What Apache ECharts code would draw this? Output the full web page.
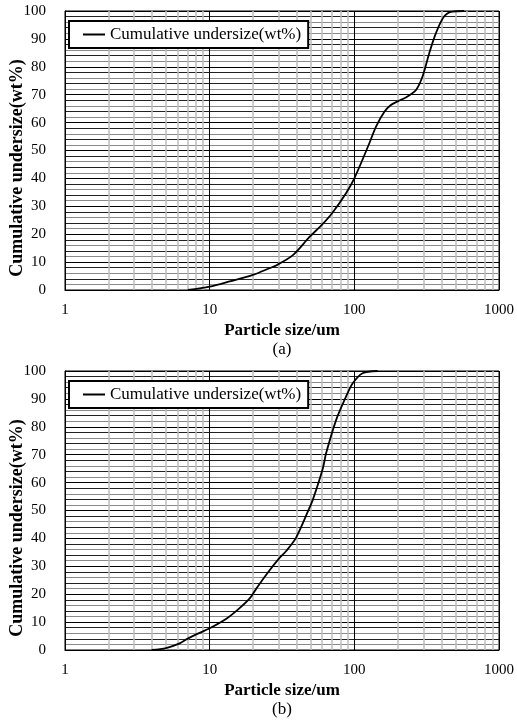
<!DOCTYPE html>
<html>
<head>
<meta charset="utf-8">
<script src="https://cdn.jsdelivr.net/npm/echarts@6/dist/echarts.min.js"></script>
<style>
  html, body { margin: 0; padding: 0; background: #fff; }
  #chart { width: 517px; height: 723px; }
</style>
</head>
<body>
<div id="chart"></div>
<script>
// particle size (um) and cumulative undersize (wt%)
const sizeA = [7.05, 10, 14, 19.9, 25.9, 28.8, 37.6, 49, 60, 70.8, 87.6, 100, 127, 141, 161, 178, 199, 227, 267, 296, 329, 366, 417, 476, 574];
const undersizeA = [0, 1.2, 3.2, 5.4, 7.8, 8.8, 12.5, 19, 23.5, 27.8, 34.7, 40, 52.6, 58.5, 63.8, 66.2, 67.6, 69, 71.7, 76.5, 84.8, 92, 98, 99.8, 100];

const sizeB = [3.96, 5, 6.2, 6.9, 8, 10, 13.2, 16.1, 18.9, 21, 24.6, 30.4, 33.8, 39.6, 49, 51.6, 60.5, 63.8, 74.8, 87.6, 97.5, 114, 145];
const undersizeB = [0, 0.7, 2.4, 3.8, 5.5, 7.8, 11.4, 15, 18.5, 22, 27, 33, 35.5, 40.3, 51, 53.8, 65, 70.5, 82.4, 90.8, 95.6, 99.2, 100];

const xTicks = [1, 10, 100, 1000];
const minorX = [2, 3, 4, 5, 6, 7, 8, 9, 20, 30, 40, 50, 60, 70, 80, 90, 200, 300, 400, 500, 600, 700, 800, 900];
const seriesName = 'Cumulative undersize(wt%)';

const serif = 'Liberation Serif, Times New Roman, serif';
const chart = echarts.init(document.getElementById('chart'));

const plots = [
  { top: 11, sizes: sizeA, vals: undersizeA, tag: '(a)' },
  { top: 371, sizes: sizeB, vals: undersizeB, tag: '(b)' }
];
const plotH = 279;

function xAxisFor(i) {
  return {
    type: 'log', logBase: 10, min: 1, max: 1000, gridIndex: i,
    name: 'Particle size/um', nameLocation: 'middle', nameGap: 32,
    nameTextStyle: { fontFamily: serif, fontSize: 17, fontWeight: 'bold', color: '#000' },
    axisLine: { show: true, lineStyle: { color: '#000', width: 1 } },
    axisTick: { show: false },
    axisLabel: { fontFamily: serif, fontSize: 15, color: '#000', margin: 13,
      formatter: v => xTicks.includes(Math.round(v)) ? String(Math.round(v)) : '' },
    splitLine: { show: true, lineStyle: { color: '#000', width: 1 } }
  };
}

function yAxisFor(i) {
  return {
    type: 'value', min: 0, max: 100, interval: 2, gridIndex: i,
    axisLine: { show: true, lineStyle: { color: '#000', width: 1 } },
    axisTick: { show: false },
    axisLabel: { fontFamily: serif, fontSize: 15, color: '#000', margin: 19,
      formatter: v => (v % 10 === 0 ? String(v) : '') },
    splitLine: { show: true, lineStyle: { color: ['#000', '#8a8a8a', '#222', '#8a8a8a', '#222'], width: 1 } }
  };
}

const option = {
  animation: false,
  grid: plots.map(p => ({ left: 65, right: 17, top: p.top, height: plotH, show: true, borderColor: '#000', borderWidth: 1, backgroundColor: 'transparent' })),
  xAxis: plots.map((p, i) => xAxisFor(i)),
  yAxis: plots.map((p, i) => yAxisFor(i)),
  legend: plots.map(p => ({
    data: [seriesName], left: 69, top: p.top + 10, orient: 'vertical',
    backgroundColor: '#fff', borderColor: '#000', borderWidth: 2,
    padding: [5, 7, 5, 14], itemWidth: 22, itemHeight: 2, itemGap: 5,
    icon: 'rect', itemStyle: { color: '#000' },
    textStyle: { fontFamily: serif, fontSize: 17, color: '#000' },
    selectedMode: false
  })),
  graphic: plots.flatMap(p => [
    { type: 'text', x: 282, y: p.top + 339, style: { text: p.tag, font: '17px ' + serif, fill: '#000', textAlign: 'center', textVerticalAlign: 'middle' } },
    { type: 'text', x: 17, y: p.top + 157, rotation: Math.PI / 2, style: { text: 'Cumulative undersize(wt%)', font: 'bold 18px ' + serif, fill: '#000', textAlign: 'center', textVerticalAlign: 'middle' } }
  ]),
  series: plots.map((p, i) => ({
    name: seriesName, type: 'line', xAxisIndex: i, yAxisIndex: i,
    data: p.sizes.map((s, k) => [s, p.vals[k]]),
    smooth: 0.3, showSymbol: false, symbol: 'none', z: 5,
    lineStyle: { color: '#000', width: 1.8 }, itemStyle: { color: '#000' },
    markLine: {
      silent: true, symbol: 'none', animation: false, z: 1,
      label: { show: false },
      lineStyle: { color: '#bcbcbc', width: 1.5, type: 'solid' },
      data: minorX.map(v => ({ xAxis: v }))
    }
  }))
};
chart.setOption(option);
</script>
</body>
</html>
